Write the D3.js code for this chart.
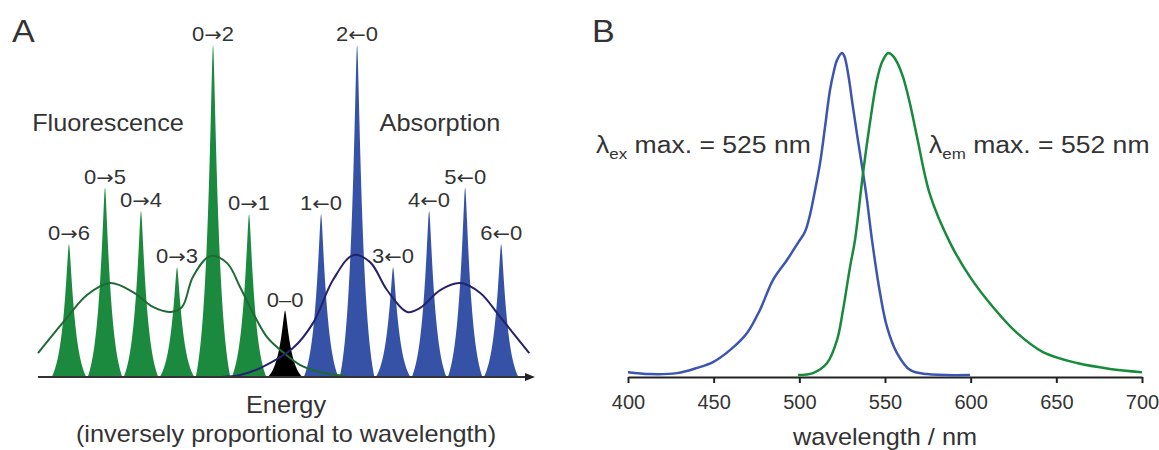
<!DOCTYPE html>
<html lang="en">
 <head>
 <meta charset="UTF-8">
 <title>Fluorescence / absorption spectra</title>
 <script src="https://cdn.jsdelivr.net/npm/d3@7/dist/d3.min.js"></script>
 <style>
   body { margin: 0; background: #fff; }
   text { font-family: "Liberation Sans", Arial, sans-serif; fill: #333; }
 </style>
 </head>
 <body>
 <script>
 // ---- panel A : vibronic transitions (energy index, relative intensity)
 var energyRange = [-6.86, 6.94];
 var fluorPos = [-6, -5, -4, -3, -2, -1];
 var fluorInt = [0.40, 0.57, 0.50, 0.33, 1.00, 0.49];
 var fluorLab = [["0", "\u2192", "6"], ["0", "\u2192", "5"], ["0", "\u2192", "4"], ["0", "\u2192", "3"], ["0", "\u2192", "2"], ["0", "\u2192", "1"]];
 var zeroPos = [0];
 var zeroInt = [0.20];
 var zeroLab = [["0", "\u2013", "0"]];
 var absPos = [1, 2, 3, 4, 5, 6];
 var absInt = [0.49, 1.00, 0.33, 0.50, 0.57, 0.40];
 var absLab = [["1", "\u2190", "0"], ["2", "\u2190", "0"], ["3", "\u2190", "0"], ["4", "\u2190", "0"], ["5", "\u2190", "0"], ["6", "\u2190", "0"]];

 // envelopes
 var fluorEnvE = [-6.86, -6.06, -5.5, -4.86, -4.22, -3.67, -3.19, -2.86, -2.56, -2.08, -1.61, -1.25, -0.89, -0.5, -0.06, 0.42, 0.97, 1.67];
 var fluorEnvI = [0.072, 0.178, 0.247, 0.283, 0.256, 0.211, 0.196, 0.211, 0.301, 0.364, 0.343, 0.271, 0.193, 0.120, 0.075, 0.036, 0.015, 0.003];
 var absEnvE = [-1.75, -1.25, -0.69, 0.22, 0.78, 1.33, 1.89, 2.36, 2.83, 3.39, 3.75, 4.31, 4.86, 5.42, 5.97, 6.78];
 var absEnvI = [0.0, 0.006, 0.027, 0.087, 0.163, 0.292, 0.367, 0.346, 0.262, 0.196, 0.208, 0.262, 0.283, 0.253, 0.181, 0.072];

 // ---- panel B : excitation / emission spectra
 var exWl = [400, 412.8, 428.6, 440.3, 449.6, 459.5, 469.5, 477.0, 484.6, 492.8, 499.2, 503.3, 506.2, 509.2, 512.1, 515.0, 517.9, 520.0, 522.0, 524.9, 526.3, 528.4, 531.3, 534.2, 537.2, 539.5, 542.4, 547.1, 551.2, 557.0, 564.6, 574.5, 599.6];
 var exInt = [0.015, 0.009, 0.012, 0.028, 0.046, 0.083, 0.136, 0.207, 0.299, 0.361, 0.414, 0.448, 0.500, 0.577, 0.660, 0.772, 0.886, 0.940, 0.978, 1.0, 0.990, 0.938, 0.833, 0.731, 0.630, 0.546, 0.423, 0.259, 0.154, 0.074, 0.022, 0.009, 0.006];
 var emWl = [499.2, 508.0, 516.2, 522.0, 525.5, 529.6, 532.5, 537.2, 541.2, 545.3, 548.3, 551.8, 554.1, 557.0, 560.5, 564.6, 568.7, 576.3, 588.0, 599.6, 613.0, 627.0, 642.2, 662.1, 681.3, 700.0];
 var emInt = [0.006, 0.012, 0.043, 0.114, 0.207, 0.340, 0.423, 0.630, 0.784, 0.917, 0.972, 1.0, 0.994, 0.972, 0.926, 0.843, 0.741, 0.562, 0.414, 0.309, 0.216, 0.136, 0.077, 0.043, 0.025, 0.015];
 var wlTicks = [400, 450, 500, 550, 600, 650, 700];

 var svg = d3.select("body").append("svg")
             .attr("width", 1159)
             .attr("height", 450);

 var stretch = 1.1;
 function label(g, x, y, str, size, anchor, sx) {
   return g.append("text")
           .attr("transform", "translate(" + x + "," + y + ") scale(" + (sx || stretch) + ",1)")
           .attr("text-anchor", anchor || "middle")
           .style("font-size", size + "px")
           .text(str);
 }

 // ================= panel A
 var gA = svg.append("g");
 var xA = d3.scaleLinear().domain(energyRange).range([38, 535]);
 var yA = d3.scaleLinear().domain([0, 1]).range([377, 45]);

 // sharp vibronic line profile
 var halfW = 0.48, tau = 0.19, eps = 0.025;
 var edge = Math.exp((eps - Math.sqrt(halfW * halfW + eps * eps)) / tau);
 function peakPts(c, h) {
   return d3.range(-60, 61).map(function (k) {
     var u = k * halfW / 60;
     var f = (Math.exp((eps - Math.sqrt(u * u + eps * eps)) / tau) - edge) / (1 - edge);
     return [c + u, Math.max(0, f) * h];
   });
 }
 var area = d3.area()
              .x(function (d) { return xA(d[0]); })
              .y0(yA(0))
              .y1(function (d) { return yA(d[1]); });

 function drawPeaks(pos, ints, color) {
   pos.forEach(function (p, i) {
     gA.append("path").attr("d", area(peakPts(p, ints[i]))).attr("fill", color);
   });
 }
 drawPeaks(fluorPos, fluorInt, "#1b8a3e");
 drawPeaks(absPos, absInt, "#3652a6");
 drawPeaks(zeroPos, zeroInt, "#000");

 var envLine = d3.line()
                 .x(function (d) { return xA(d[0]); })
                 .y(function (d) { return yA(d[1]); })
                 .curve(d3.curveCatmullRom);
 gA.append("path")
   .attr("d", envLine(d3.zip(fluorEnvE, fluorEnvI)))
   .attr("fill", "none").attr("stroke", "#1e6a34").attr("stroke-width", 2);
 gA.append("path")
   .attr("d", envLine(d3.zip(absEnvE, absEnvI)))
   .attr("fill", "none").attr("stroke", "#26226a").attr("stroke-width", 2);

 // energy axis with arrow
 gA.append("line")
   .attr("x1", xA(energyRange[0])).attr("x2", xA(energyRange[1]) - 6)
   .attr("y1", yA(0)).attr("y2", yA(0))
   .attr("stroke", "#333").attr("stroke-width", 2);
 gA.append("path")
   .attr("d", "M" + xA(energyRange[1]) + "," + yA(0) + " l-10,-4 l0,8 z")
   .attr("fill", "#222");

 // peak labels (arrow glyph taken from DejaVu for a longer shaft)
 [[fluorPos, fluorInt, fluorLab], [zeroPos, zeroInt, zeroLab], [absPos, absInt, absLab]].forEach(function (s) {
   s[0].forEach(function (p, i) {
     var t = label(gA, xA(p), yA(s[1][i]) - 4, "", 20);
     var parts = s[2][i];
     t.append("tspan").text(parts[0]);
     t.append("tspan")
      .style("font-family", parts[1] === "\u2013" ? null : "DejaVu Sans")
      .style("font-size", parts[1] === "\u2013" ? null : "19px")
      .text(parts[1]);
     t.append("tspan").text(parts[2]);
   });
 });

 label(gA, 12, 42, "A", 31, "start");
 label(gA, 108, 131, "Fluorescence", 23);
 label(gA, 440, 131, "Absorption", 23);
 label(gA, 286, 413, "Energy", 23);
 label(gA, 286, 442, "(inversely proportional to wavelength)", 23);

 // ================= panel B
 var gB = svg.append("g");
 var xB = d3.scaleLinear().domain([400, 700]).range([628, 1142]);
 var yB = d3.scaleLinear().domain([0, 1]).range([377, 53]);

 var specLine = d3.line()
                  .x(function (d) { return xB(d[0]); })
                  .y(function (d) { return yB(d[1]); })
                  .curve(d3.curveCatmullRom);

 var axB = gB.append("g")
             .attr("transform", "translate(0," + yB(0) + ")")
             .call(d3.axisBottom(xB).tickValues(wlTicks).tickSize(6).tickSizeOuter(0).tickPadding(12));
 axB.select(".domain").attr("stroke", "#222").attr("stroke-width", 2);
 axB.selectAll(".tick line").attr("stroke", "#222").attr("stroke-width", 2);
 axB.selectAll(".tick text")
    .style("font-size", "20px")
    .style("font-family", "Liberation Sans, Arial, sans-serif")
    .attr("fill", "#333");

 gB.append("path")
   .attr("d", specLine(d3.zip(exWl, exInt)))
   .attr("fill", "none").attr("stroke", "#3b55b0").attr("stroke-width", 2.5);
 gB.append("path")
   .attr("d", specLine(d3.zip(emWl, emInt)))
   .attr("fill", "none").attr("stroke", "#178a3c").attr("stroke-width", 2.5);

 label(gB, 592, 42, "B", 31, "start");
 label(gB, 885, 445, "wavelength / nm", 23);

 function lambdaLabel(x, y, sub, rest) {
   var t = gB.append("text")
             .attr("transform", "translate(" + x + "," + y + ") scale(1.13,1)")
             .style("font-size", "23.5px");
   t.append("tspan").text("\u03bb");
   t.append("tspan").attr("dy", 6).style("font-size", "15px").text(sub);
   t.append("tspan").attr("dy", -6).text(" " + rest);
 }
 lambdaLabel(596, 153, "ex", "max. = 525 nm");
 lambdaLabel(929, 153, "em", "max. = 552 nm");
 </script>
 </body>
</html>
